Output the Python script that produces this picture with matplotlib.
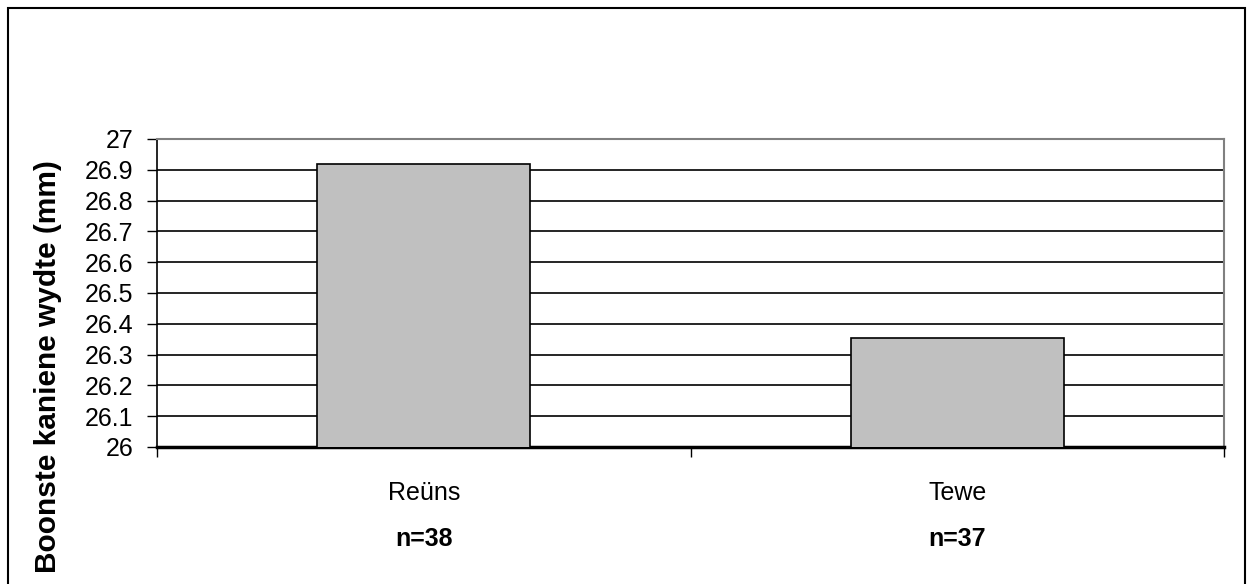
import matplotlib.pyplot as plt
from matplotlib.patches import Rectangle

# data
categories = ["Reüns", "Tewe"]
counts = ["n=38", "n=37"]
values = [26.92, 26.355]
y_ticks = [26.0, 26.1, 26.2, 26.3, 26.4, 26.5, 26.6, 26.7, 26.8, 26.9, 27.0]
y_tick_labels = ["26", "26.1", "26.2", "26.3", "26.4", "26.5", "26.6", "26.7", "26.8", "26.9", "27"]

plt.rcParams['font.family'] = ['Liberation Sans', 'DejaVu Sans']

W, H = 1247, 584
fig = plt.figure(figsize=(W / 100, H / 100), dpi=100)

# plot area in pixels: x 157-1224, y 139-447
ax = fig.add_axes([157 / W, 1 - 447 / H, (1224 - 157) / W, (447 - 139) / H])

x = list(range(len(categories)))
ax.bar(x, values, width=0.4, bottom=0, color='#c0c0c0', edgecolor='black',
       linewidth=1.2, zorder=3)
ax.set_xlim(-0.5, len(categories) - 0.5)
ax.set_ylim(26, 27)

ax.set_yticks(y_ticks)
ax.set_yticklabels(y_tick_labels, fontsize=18)
ax.yaxis.grid(True, color='black', linewidth=1.2, zorder=0)
ax.set_axisbelow(True)

# x ticks at the category borders, labels put as text below
ax.set_xticks([-0.5, 0.5, 1.5])
ax.set_xticklabels([])
ax.tick_params(axis='x', direction='out', length=7, width=1)
ax.tick_params(axis='y', direction='out', length=7, width=1, pad=10)

for i, (c, n) in enumerate(zip(categories, counts)):
    ax.text(i, -0.15, c, transform=ax.get_xaxis_transform(), ha='center',
            va='center', fontsize=18)
    ax.text(i, -0.30, n, transform=ax.get_xaxis_transform(), ha='center',
            va='center', fontsize=18, fontweight='bold')

ax.spines['left'].set_linewidth(1.2)
ax.spines['bottom'].set_linewidth(2.5)
ax.spines['top'].set_color('#808080')
ax.spines['right'].set_color('#808080')
ax.spines['top'].set_linewidth(1.5)
ax.spines['right'].set_linewidth(1.5)

fig.text(48 / W, 1 - 367 / H, "Boonste kaniene wydte (mm)", rotation=90,
         ha='center', va='center', fontsize=21.5, fontweight='bold')

# outer chart border (bottom edge falls outside the picture)
fig.patches.append(Rectangle((8 / W, -0.05), (1245 - 8) / W, 1 - 8 / H + 0.05,
                             transform=fig.transFigure, fill=False,
                             edgecolor='black', linewidth=1.5))

fig.savefig("out.png", dpi=100)
